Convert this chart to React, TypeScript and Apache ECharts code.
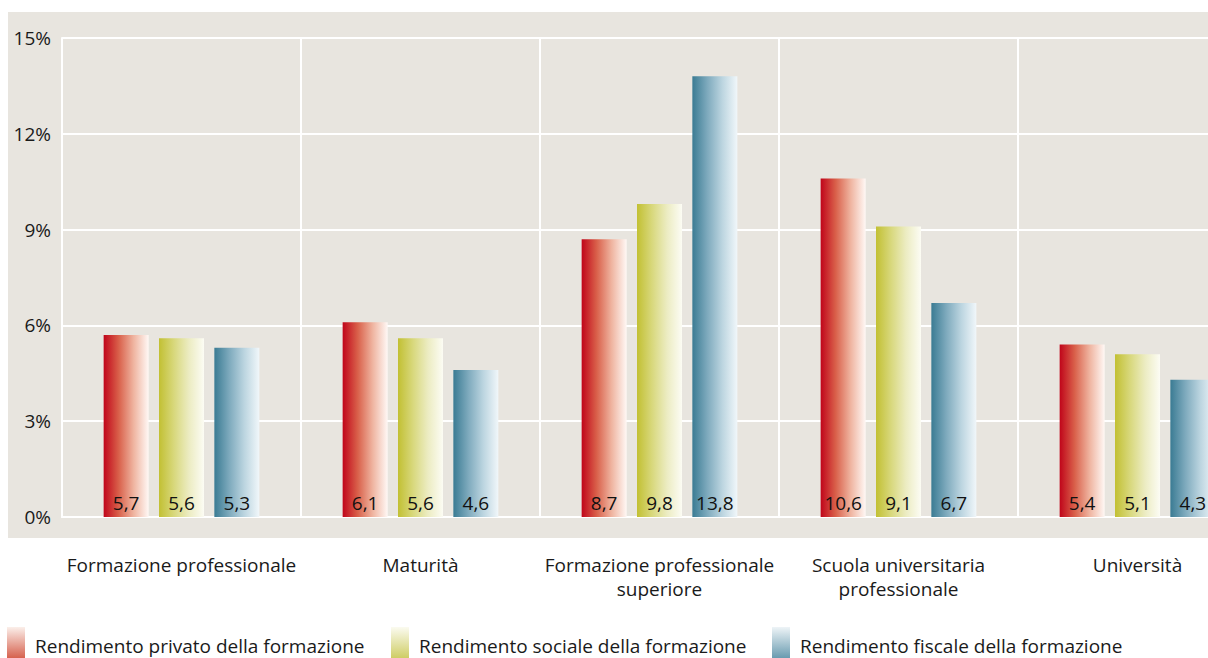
import React, { useEffect, useRef } from "react";
import * as echarts from "echarts";

const categories = [
  "Formazione professionale",
  "Maturità",
  "Formazione professionale\nsuperiore",
  "Scuola universitaria\nprofessionale",
  "Università",
];
const seriesNames = [
  "Rendimento privato della formazione",
  "Rendimento sociale della formazione",
  "Rendimento fiscale della formazione",
];
const privateValues = [5.7, 6.1, 8.7, 10.6, 5.4];
const socialValues = [5.6, 5.6, 9.8, 9.1, 5.1];
const fiscalValues = [5.3, 4.6, 13.8, 6.7, 4.3];
const yTicks = [0, 3, 6, 9, 12, 15];

const FONT = "'Open Sans', Lato, sans-serif";

const barGradients = [
  ["#c0051a", "#d9604a", "#efb4a0", "#fff8f5"],
  ["#c2c033", "#d8d87c", "#ececc2", "#fcfcf4"],
  ["#3a7b93", "#7eaabd", "#bcd5e0", "#f1f7fa"],
];
const legendGradients = [
  ["#fbefea", "#cf4630"],
  ["#fbfbf0", "#c6c44a"],
  ["#eef4f7", "#4f8aa2"],
];
const legendLefts = [7, 391, 772];

function hGrad(stops: string[]) {
  return new echarts.graphic.LinearGradient(
    0, 0, 1, 0,
    stops.map((c, i) => ({ offset: i / (stops.length - 1), color: c }))
  );
}
function vGrad(stops: string[]) {
  return new echarts.graphic.LinearGradient(
    0, 0, 0, 1,
    stops.map((c, i) => ({ offset: i / (stops.length - 1), color: c }))
  );
}

export default function App() {
  const ref = useRef<HTMLDivElement>(null);
  useEffect(() => {
    if (!ref.current) return;
    const chart = echarts.init(ref.current, null, { renderer: "svg" });
    const values = [privateValues, socialValues, fiscalValues];
    const option: any = {
      animation: false,
      backgroundColor: "#ffffff",
      textStyle: { fontFamily: FONT },
      graphic: [
        {
          type: "rect",
          z: -100,
          silent: true,
          shape: { x: 8, y: 12, width: 1200, height: 526 },
          style: { fill: "#e8e5df" },
        },
      ],
      grid: { left: 62, top: 38, height: 479, width: 1195 },
      legend: seriesNames.map((name, i) => ({
        left: legendLefts[i],
        top: 627,
        padding: 0,
        itemWidth: 18,
        itemHeight: 37,
        icon: "rect",
        data: [{ name, itemStyle: { color: vGrad(legendGradients[i]) } }],
        textStyle: {
          fontFamily: FONT,
          fontSize: 19,
          lineHeight: 20,
          color: "#1a1a1a",
          padding: [0, 0, 0, 5],
        },
      })),
      xAxis: {
        type: "category",
        data: categories,
        boundaryGap: true,
        axisLine: { show: true, lineStyle: { color: "#ffffff", width: 2 } },
        axisTick: { show: false },
        splitLine: { show: true, lineStyle: { color: "#ffffff", width: 2 } },
        axisLabel: {
          interval: 0,
          margin: 36,
          fontFamily: FONT,
          fontSize: 19,
          lineHeight: 24,
          color: "#1a1a1a",
          verticalAlign: "top",
        },
      },
      yAxis: {
        type: "value",
        min: 0,
        max: 15,
        interval: 3,
        axisLine: { show: true, lineStyle: { color: "#ffffff", width: 2 } },
        axisTick: { show: false },
        splitLine: { show: true, lineStyle: { color: "#ffffff", width: 2 } },
        axisLabel: {
          margin: 11,
          fontFamily: FONT,
          fontSize: 19,
          color: "#1a1a1a",
          formatter: (v: number) => (yTicks.includes(v) ? v + "%" : ""),
        },
      },
      series: seriesNames.map((name, i) => ({
        name,
        type: "bar",
        data: values[i],
        barWidth: 45,
        barGap: "23%",
        itemStyle: { color: hGrad(barGradients[i]) },
        label: {
          show: true,
          position: "insideBottom",
          distance: 5,
          fontFamily: FONT,
          fontSize: 19,
          color: "#111111",
          formatter: (p: any) => p.value.toFixed(1).replace(".", ","),
        },
      })),
    };
    chart.setOption(option);
    return () => chart.dispose();
  }, []);
  return (
    <div
      ref={ref}
      style={{ position: "fixed", left: 0, top: 0, width: 1260, height: 658 }}
    />
  );
}
